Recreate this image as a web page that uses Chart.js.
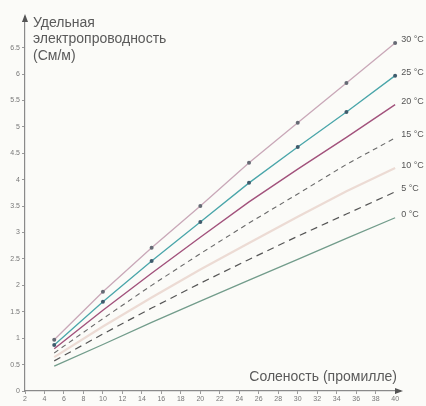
<!DOCTYPE html>
<html><head><meta charset="utf-8">
<script src="https://cdn.jsdelivr.net/npm/chart.js@4"></script>
<style>html,body{margin:0;padding:0;background:#fbfbf8;}#wrap{width:426px;height:406px;position:relative;}</style>
</head><body><div id="wrap"><canvas id="c" width="426" height="406"></canvas></div>
<script>
const salinity = [5, 10, 15, 20, 25, 30, 35, 40];
const temps = ["30 °C", "25 °C", "20 °C", "15 °C", "10 °C", "5 °C", "0 °C"];
const c30 = [0.97, 1.88, 2.71, 3.50, 4.32, 5.08, 5.83, 6.59];
const c25 = [0.87, 1.69, 2.46, 3.20, 3.94, 4.62, 5.28, 5.97];
const c20 = [0.80, 1.53, 2.23, 2.91, 3.58, 4.20, 4.80, 5.42];
const c15 = [0.72, 1.37, 2.00, 2.60, 3.18, 3.73, 4.29, 4.79];
const c10 = [0.64, 1.22, 1.77, 2.30, 2.80, 3.30, 3.78, 4.22];
const c5  = [0.57, 1.08, 1.57, 2.04, 2.49, 2.93, 3.35, 3.77];
const c0  = [0.47, 0.88, 1.30, 1.70, 2.10, 2.49, 2.89, 3.28];
const yTitle = ["Удельная", "электропроводность", "(См/м)"];
const xTitle = "Соленость (промилле)";

const seriesVals = [c30, c25, c20, c15, c10, c5, c0];
const styles = [
  {color:'#c9a8b8', width:1.3, dash:[], pr:2, pc:'#666a74'},
  {color:'#4aa6aa', width:1.3, dash:[], pr:2, pc:'#3f5b6c'},
  {color:'#a2527c', width:1.4, dash:[], pr:0, pc:'#a2527c'},
  {color:'#6a6a6a', width:1.1, dash:[5,4], pr:0, pc:'#6a6a6a'},
  {color:'#ecdbd4', width:2.2, dash:[], pr:0, pc:'#ecdbd4'},
  {color:'#555555', width:1.2, dash:[7,5], pr:0, pc:'#555'},
  {color:'#729c8b', width:1.3, dash:[], pr:0, pc:'#729c8b'}
];
const datasets = seriesVals.map((vals,i)=>({
  label: temps[i],
  data: salinity.map((s,j)=>({x:s,y:vals[j]})),
  borderColor: styles[i].color,
  borderWidth: styles[i].width,
  borderDash: styles[i].dash,
  pointRadius: styles[i].pr,
  pointBackgroundColor: styles[i].pc,
  pointBorderColor: styles[i].pc,
  pointBorderWidth: 0,
  tension: 0,
  fill: false
}));

const decor = {
  id:'decor',
  beforeDraw(chart){
    const ctx = chart.ctx;
    ctx.save();
    ctx.fillStyle = '#fbfbf8';
    ctx.fillRect(0,0,chart.width,chart.height);
    ctx.restore();
  },
  afterDraw(chart){
    const ctx = chart.ctx, a = chart.chartArea;
    const xs = chart.scales.x, ys = chart.scales.y;
    ctx.save();
    ctx.fillStyle = '#555';
    ctx.beginPath();
    ctx.moveTo(a.left, a.top-3); ctx.lineTo(a.left-3, a.top+5); ctx.lineTo(a.left+3, a.top+5); ctx.closePath(); ctx.fill();
    ctx.beginPath();
    ctx.moveTo(a.right+3, a.bottom); ctx.lineTo(a.right-5, a.bottom-3); ctx.lineTo(a.right-5, a.bottom+3); ctx.closePath(); ctx.fill();
    ctx.fillStyle = '#5a5a5a';
    ctx.font = '14px "Liberation Sans", Arial, sans-serif';
    ctx.textBaseline = 'middle';
    ctx.textAlign = 'left';
    yTitle.forEach((t,i)=>ctx.fillText(t, a.left+8, 23 + i*16.5));
    ctx.textAlign = 'right';
    ctx.fillText(xTitle, a.right-3, a.bottom-14);
    ctx.font = '9px "Liberation Sans", Arial, sans-serif';
    ctx.fillStyle = '#555';
    ctx.textAlign = 'left';
    seriesVals.forEach((vals,i)=>{
      const n = vals.length-1;
      ctx.fillText(temps[i], xs.getPixelForValue(salinity[n])+6, ys.getPixelForValue(vals[n])-3);
    });
    ctx.restore();
  }
};

new Chart(document.getElementById('c'), {
  type:'line',
  data:{datasets},
  options:{
    responsive:false,
    animation:false,
    devicePixelRatio:1,
    layout:{padding:{top:17,right:26,left:0,bottom:0}},
    plugins:{legend:{display:false},tooltip:{enabled:false}},
    scales:{
      x:{type:'linear', min:2, max:40.5,
        ticks:{stepSize:2, includeBounds:false, color:'#777', font:{size:7}, padding:1, maxRotation:0, autoSkip:false},
        grid:{display:true, drawOnChartArea:false, tickLength:3, color:'#999'},
        border:{color:'#8a8a8a', width:1.2},
        afterFit(s){ s.height = 15; }
      },
      y:{type:'linear', min:0, max:7.08,
        ticks:{stepSize:0.5, includeBounds:false, color:'#777', font:{size:7}, padding:2,
          callback:v=> (v<=6.5 ? v : '')},
        grid:{display:true, drawOnChartArea:false, tickLength:3, color:'#999'},
        border:{color:'#8a8a8a', width:1.2},
        afterFit(s){ s.width = 25; }
      }
    }
  },
  plugins:[decor]
});
</script></body></html>
